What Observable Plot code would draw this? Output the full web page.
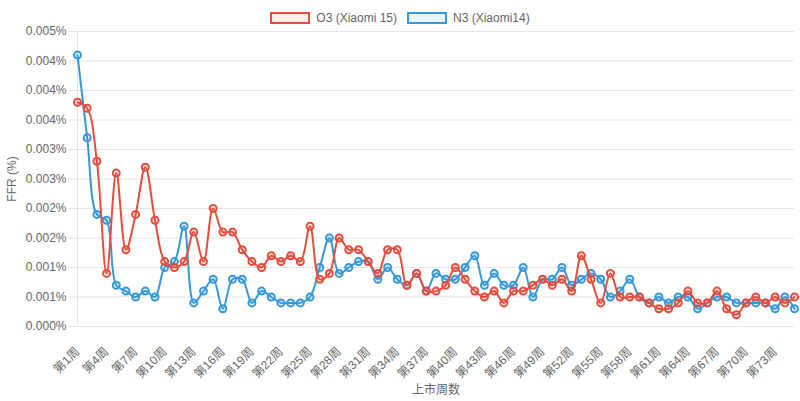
<!DOCTYPE html>
<html>
<head>
<meta charset="utf-8">
<script src="https://cdn.jsdelivr.net/npm/d3@7"></script>
<script src="https://cdn.jsdelivr.net/npm/@observablehq/plot@0.6"></script>
<style>
html, body { margin: 0; padding: 0; background: #fff; }
#wrap { position: relative; width: 800px; height: 401px; font-family: "Liberation Sans", Arial, "Noto Sans CJK SC", sans-serif; }
#legend { position: absolute; top: 11px; left: 0; width: 800px; display: flex; justify-content: center; align-items: center; font-size: 12px; color: #666; line-height: 14px; }
.item { display: flex; align-items: center; margin: 0 5px; }
.box { width: 36px; height: 8px; border: 2px solid; margin-right: 6px; }
</style>
</head>
<body>
<div id="wrap"><div id="legend"></div></div>
<script>
// Categories (weeks since launch)
const weeks = d3.range(1, 76).map(i => `第${i}周`);
const xTickLabels = weeks.filter((d, i) => i % 3 === 0);

// Series values, FFR in percent
const seriesNames = ["O3 (Xiaomi 15)", "N3 (Xiaomi14)"];
const o3Values = [
  0.0038, 0.0037, 0.0028, 0.0009, 0.0026, 0.0013, 0.0019, 0.0027, 0.0018, 0.0011,
  0.0010, 0.0011, 0.0016, 0.0011, 0.0020, 0.0016, 0.0016, 0.0013, 0.0011, 0.0010,
  0.0012, 0.0011, 0.0012, 0.0011, 0.0017, 0.0008, 0.0009, 0.0015, 0.0013, 0.0013,
  0.0011, 0.0009, 0.0013, 0.0013, 0.0007, 0.0009, 0.0006, 0.0006, 0.0007, 0.0010,
  0.0008, 0.0006, 0.0005, 0.0006, 0.0004, 0.0006, 0.0006, 0.0007, 0.0008, 0.0007,
  0.0008, 0.0006, 0.0012, 0.0008, 0.0004, 0.0009, 0.0005, 0.0005, 0.0005, 0.0004,
  0.0003, 0.0003, 0.0004, 0.0006, 0.0004, 0.0004, 0.0006, 0.0003, 0.0002, 0.0004,
  0.0005, 0.0004, 0.0005, 0.0004, 0.0005
];
const n3Values = [
  0.0046, 0.0032, 0.0019, 0.0018, 0.0007, 0.0006, 0.0005, 0.0006, 0.0005, 0.0010,
  0.0011, 0.0017, 0.0004, 0.0006, 0.0008, 0.0003, 0.0008, 0.0008, 0.0004, 0.0006,
  0.0005, 0.0004, 0.0004, 0.0004, 0.0005, 0.0010, 0.0015, 0.0009, 0.0010, 0.0011,
  0.0011, 0.0008, 0.0010, 0.0008, 0.0007, 0.0009, 0.0006, 0.0009, 0.0008, 0.0008,
  0.0010, 0.0012, 0.0007, 0.0009, 0.0007, 0.0007, 0.0010, 0.0005, 0.0008, 0.0008,
  0.0010, 0.0007, 0.0008, 0.0009, 0.0008, 0.0005, 0.0006, 0.0008, 0.0005, 0.0004,
  0.0005, 0.0004, 0.0005, 0.0005, 0.0003, 0.0004, 0.0005, 0.0005, 0.0004, 0.0004,
  0.0004, 0.0004, 0.0003, 0.0005, 0.0003
];

// Y ticks and their labels (as shown in the chart)
const yTicks = [0, 0.0005, 0.001, 0.0015, 0.002, 0.0025, 0.003, 0.0035, 0.004, 0.0045, 0.005];
const yTickLabels = ["0.000%", "0.001%", "0.001%", "0.002%", "0.002%", "0.003%", "0.003%", "0.004%", "0.004%", "0.004%", "0.005%"];

const colors = ["#e74c3c", "#3498db"];
const fills = ["rgba(231,76,60,0.1)", "rgba(52,152,219,0.1)"];

const o3Data = weeks.map((w, i) => ({week: w, value: o3Values[i]}));
const n3Data = weeks.map((w, i) => ({week: w, value: n3Values[i]}));

const font = '"Liberation Sans", Arial, "Noto Sans CJK SC", sans-serif';

const chart = Plot.plot({
  width: 800,
  height: 401,
  marginTop: 31,
  marginBottom: 75,
  marginLeft: 77,
  marginRight: 6,
  style: {fontFamily: font, fontSize: "12px", color: "#666", background: "#fff"},
  x: {type: "point", domain: weeks, padding: 0},
  y: {domain: [0, 0.005]},
  marks: [
    Plot.gridY(yTicks, {stroke: "#000", strokeOpacity: 0.1}),
    Plot.ruleX([weeks[0]], {y1: 0, y2: 0.005, stroke: "#000", strokeOpacity: 0.1}),
    Plot.axisY(yTicks, {
      tickFormat: d => yTickLabels[yTicks.indexOf(d)],
      tickSize: 8, tickPadding: 3, stroke: "#000", strokeOpacity: 0.1,
      label: "FFR (%)", labelAnchor: "center", labelOffset: 70, labelArrow: "none"
    }),
    Plot.axisX(xTickLabels, {
      tickRotate: -45, tickSize: 0, tickPadding: 23,
      label: "上市周数", labelAnchor: "center", labelOffset: 67, labelArrow: "none"
    }),
    Plot.line(n3Data, {x: "week", y: "value", stroke: colors[1], strokeWidth: 2, curve: "catmull-rom"}),
    Plot.dot(n3Data, {x: "week", y: "value", r: 3.5, stroke: colors[1], strokeWidth: 2, fill: fills[1]}),
    Plot.line(o3Data, {x: "week", y: "value", stroke: colors[0], strokeWidth: 2, curve: "catmull-rom"}),
    Plot.dot(o3Data, {x: "week", y: "value", r: 3.5, stroke: colors[0], strokeWidth: 2, fill: fills[0]})
  ]
});

document.getElementById("wrap").appendChild(chart);

const legend = document.getElementById("legend");
seriesNames.forEach((name, i) => {
  const item = document.createElement("div");
  item.className = "item";
  const box = document.createElement("div");
  box.className = "box";
  box.style.borderColor = colors[i];
  box.style.background = fills[i];
  const label = document.createElement("span");
  label.textContent = name;
  item.appendChild(box);
  item.appendChild(label);
  legend.appendChild(item);
});
</script>
</body>
</html>
